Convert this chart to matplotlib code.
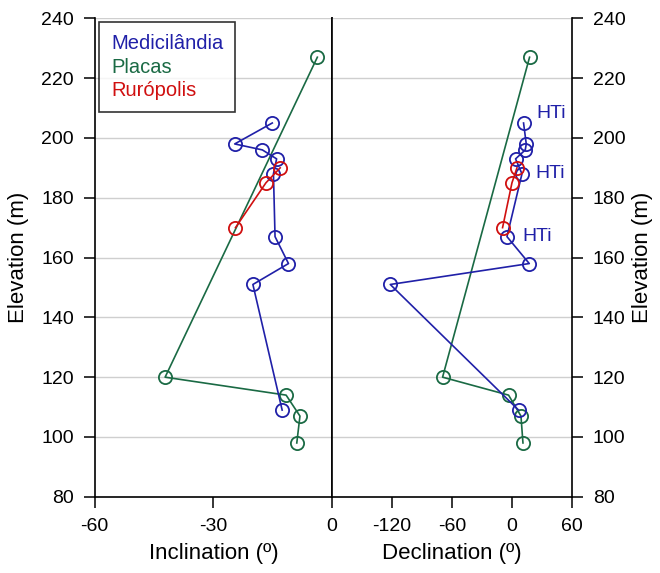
import matplotlib
matplotlib.use('Agg')
import matplotlib.pyplot as plt

plt.rcParams['font.family'] = ['Liberation Sans', 'DejaVu Sans']
plt.rcParams['axes.unicode_minus'] = False

# Medicilandia
med_elev = [205, 198, 196, 193, 188, 167, 158, 151, 109]
med_inc = [-15.1, -24.6, -17.6, -14.0, -14.8, -14.4, -11.0, -20.0, -12.6]
med_dec = [11.6, 14.3, 13.3, 3.6, 10.0, -5.0, 17.3, -121.7, 6.6]
# Placas
pla_elev = [227, 120, 114, 107, 98]
pla_inc = [-3.7, -42.2, -11.6, -8.1, -8.9]
pla_dec = [17.6, -69.4, -3.4, 9.0, 11.0]
# Ruropolis
rur_elev = [190, 185, 170]
rur_inc = [-13.1, -16.7, -24.4]
rur_dec = [5.0, 0.0, -9.4]

hti_dec = [24.5, 23.5, 10.0]
hti_elev = [208.3, 188.2, 167.0]

c_med = '#2020a8'
c_pla = '#1a6a44'
c_rur = '#d01010'
grid_c = '#cfcfcf'

fig = plt.figure(figsize=(6.6, 5.73), dpi=100)
ax1 = fig.add_axes([0.1435, 0.133, 0.3595, 0.835])
ax2 = fig.add_axes([0.503, 0.133, 0.3636, 0.835])

mk = dict(marker='o', markersize=9.5, markerfacecolor='none', markeredgewidth=1.3, linewidth=1.2)

ax1.plot(pla_inc, pla_elev, color=c_pla, **mk)
ax1.plot(med_inc, med_elev, color=c_med, **mk)
ax1.plot(rur_inc, rur_elev, color=c_rur, **mk)

ax2.plot(pla_dec, pla_elev, color=c_pla, **mk)
ax2.plot(med_dec, med_elev, color=c_med, **mk)
ax2.plot(rur_dec, rur_elev, color=c_rur, **mk)

for x, y in zip(hti_dec, hti_elev):
    ax2.text(x, y, 'HTi', color=c_med, fontsize=14, ha='left', va='center')

yticks = list(range(80, 241, 20))
for ax in (ax1, ax2):
    ax.set_ylim(80, 240)
    ax.set_yticks(yticks)
    for y in yticks[1:]:
        ax.axhline(y, color=grid_c, linewidth=1.0, zorder=0)
    ax.spines['top'].set_visible(False)
    for s in ('left', 'right', 'bottom'):
        ax.spines[s].set_linewidth(1.2)
    ax.tick_params(direction='out', length=8, width=1.1, labelsize=14, pad=7)

ax1.set_xlim(-60, 0)
ax1.set_xticks([-60, -30, 0])
ax1.set_xlabel('Inclination (º)', fontsize=16, labelpad=6)
ax1.set_ylabel('Elevation (m)', fontsize=16, labelpad=9)
ax1.tick_params(axis='y', left=True, right=False)

ax2.set_xlim(-180, 60)
ax2.set_xticks([-120, -60, 0, 60])
ax2.set_xlabel('Declination (º)', fontsize=16, labelpad=6)
ax2.yaxis.tick_right()
ax2.yaxis.set_label_position('right')
ax2.set_ylabel('Elevation (m)', fontsize=16, labelpad=5, rotation=90)

handles = [plt.Line2D([], [], linestyle='none') for _ in range(3)]
leg = ax1.legend(handles, ['Medicilândia', 'Placas', 'Rurópolis'],
                 labelcolor=[c_med, c_pla, c_rur], loc='upper left',
                 bbox_to_anchor=(0.018, 0.992), borderaxespad=0,
                 handlelength=0, handletextpad=0, fancybox=False,
                 fontsize=14.5, labelspacing=0.22, borderpad=0.6)
leg.get_frame().set_edgecolor('black')
leg.get_frame().set_linewidth(1.2)

fig.savefig('out.png', dpi=100)
